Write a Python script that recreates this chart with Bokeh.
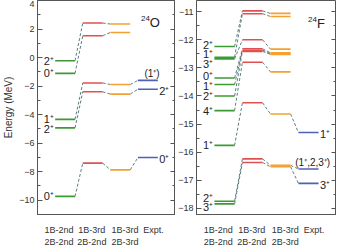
from bokeh.plotting import figure
from bokeh.layouts import row
from bokeh.models import ColumnDataSource, FixedTicker, LinearAxis, Range1d
from bokeh.embed import file_html
from bokeh.resources import INLINE
from bokeh.core.properties import value

# ---------------- data ----------------
column_labels = ["1B-2nd\n2B-2nd", "1B-3rd\n2B-2nd", "1B-3rd\n2B-3rd", "Expt."]

o24_spins = ["2⁺", "0⁺", "1⁺", "2⁺", "0⁺"]
o24_2b2 = [-0.22, -1.11, -4.33, -4.93, -9.73]
o24_3b2 = [2.42, 1.53, -1.78, -2.40, -7.40]
o24_3b3 = [2.35, 1.76, -1.89, -2.56, -7.87]
o24_expt = [-1.60, -2.22, -7.00]
o24_expt_spins = ["(1⁺)", "2⁺", "0⁺"]
o24_expt_from = [2, 3, 4]

f24_spins = ["2⁺", "1⁺", "3⁺", "0⁺", "1⁺", "2⁺", "4⁺", "1⁺", "2⁺", "3⁺"]
f24_2b2 = [-12.24, -12.62, -12.68, -13.36, -13.59, -14.00, -14.52, -15.76, -17.75, -17.84]
f24_3b2 = [-10.97, -11.07, -12.00, -12.32, -12.37, -12.41, -12.80, -14.24, -16.24, -16.37]
f24_3b3 = [-11.06, -11.17, -12.33, -12.46, -12.49, -12.52, -13.14, -14.64, -16.47, -16.52]
f24_expt = [-15.30, -16.60, -17.11]
f24_expt_spins = ["1⁺", "(1⁺,2,3⁺)", "3⁺"]
f24_expt_from = [7, 8, 9]

# ---------------- style ----------------
COLORS = ["#3c9a34", "#e05050", "#f5a030", "#5060b8"]
DASH_COLOR = "#4a7070"
FONT = "Liberation Sans"
HW = 0.36
COLS = [1, 2, 3, 4]
LABEL_X = [0.78, 1.97, 3.17, 4.2]
BORDER = "#555555"


def spread(vals, gap):
    order = sorted(range(len(vals)), key=lambda i: -vals[i])
    pos = [vals[i] for i in order]
    for _ in range(200):
        for k in range(len(pos) - 1):
            d = pos[k] - pos[k + 1]
            if d < gap:
                s = (gap - d) / 2
                pos[k] += s
                pos[k + 1] -= s
    out = [0] * len(vals)
    for k, i in enumerate(order):
        out[i] = pos[k]
    return out


def make_panel(fw, yr, major, minor, calc, expt, expt_from, spins, expt_spins,
               nucl_mass, nucl_sym, nucl_xy, gap, expt_label_above, left_border, ylabel):
    p = figure(frame_width=fw, frame_height=214, output_backend="svg",
               toolbar_location=None, x_range=Range1d(0, 5), y_range=Range1d(*yr),
               min_border_left=left_border, min_border_right=0, min_border_top=0,
               min_border_bottom=0)
    p.grid.visible = False
    p.outline_line_color = BORDER
    p.background_fill_color = "white"
    p.border_fill_color = "white"

    ya = p.yaxis[0]
    ya.ticker = FixedTicker(ticks=major, minor_ticks=minor)
    ya.major_tick_in = 5
    ya.major_tick_out = 0
    ya.minor_tick_in = 3
    ya.minor_tick_out = 0
    ya.axis_line_color = BORDER
    ya.major_tick_line_color = BORDER
    ya.minor_tick_line_color = BORDER
    ya.major_label_text_font = FONT
    ya.major_label_text_font_size = "9px"
    ya.major_label_text_color = "#333333"
    ya.major_label_standoff = 3
    if ylabel:
        ya.axis_label = ylabel
        ya.axis_label_text_font = FONT
        ya.axis_label_text_font_size = "10px"
        ya.axis_label_text_font_style = "normal"
        ya.axis_label_text_color = "#333333"
        ya.axis_label_standoff = 2
    ra = LinearAxis(ticker=FixedTicker(ticks=major, minor_ticks=minor),
                    major_tick_in=5, major_tick_out=0, minor_tick_in=3, minor_tick_out=0,
                    major_label_overrides={t: "" for t in major},
                    major_label_text_font_size="1px", major_label_standoff=0,
                    axis_line_color=BORDER, major_tick_line_color=BORDER,
                    minor_tick_line_color=BORDER)
    p.add_layout(ra, "right")

    xa = p.xaxis[0]
    xa.ticker = FixedTicker(ticks=LABEL_X)
    xa.major_label_overrides = {LABEL_X[i]: column_labels[i] for i in range(4)}
    xa.major_tick_line_color = None
    xa.minor_tick_line_color = None
    xa.axis_line_color = BORDER
    xa.major_label_text_font = FONT
    xa.major_label_text_font_size = "9px"
    xa.major_label_text_color = "#333333"
    xa.major_label_standoff = 4

    # connectors
    for c in range(2):
        a, b = calc[c], calc[c + 1]
        src = ColumnDataSource(dict(x0=[COLS[c] + HW] * len(a), y0=a,
                                    x1=[COLS[c + 1] - HW] * len(b), y1=b))
        p.segment("x0", "y0", "x1", "y1", source=src, line_color=DASH_COLOR,
                  line_width=0.9, line_dash="3 2")
    a = [calc[2][i] for i in expt_from]
    src = ColumnDataSource(dict(x0=[COLS[2] + HW] * len(a), y0=a,
                                x1=[COLS[3] - HW] * len(expt), y1=expt))
    p.segment("x0", "y0", "x1", "y1", source=src, line_color=DASH_COLOR,
              line_width=0.9, line_dash="3 2")

    # levels
    allcols = calc + [expt]
    for c, lv in enumerate(allcols):
        src = ColumnDataSource(dict(x0=[COLS[c] - HW] * len(lv), x1=[COLS[c] + HW] * len(lv), y=lv))
        p.segment("x0", "y", "x1", "y", source=src, line_color=COLORS[c], line_width=1.6)

    # spin labels left of first column
    ly = spread(calc[0], gap)
    src = ColumnDataSource(dict(x=[COLS[0] - HW - 0.05] * len(ly), y=ly, t=spins))
    p.text("x", "y", text="t", source=src, text_align="right", text_baseline="middle",
           text_font=value(FONT), text_font_size="11px", text_color="#222222")

    # expt labels
    for i, (yv, t) in enumerate(zip(expt, expt_spins)):
        if expt_label_above[i]:
            p.text(x=[COLS[3] + 0.15], y=[yv], text=[t], text_align="center",
                   text_baseline="bottom", y_offset=-1, text_font=value(FONT),
                   text_font_size="10px", text_color="#222222")
        else:
            p.text(x=[COLS[3] + HW + 0.05], y=[yv], text=[t], text_align="left",
                   text_baseline="middle", y_offset=2, text_font=value(FONT),
                   text_font_size="11px", text_color="#222222")

    # nucleus label
    p.text(x=[nucl_xy[0]], y=[nucl_xy[1]], text=[nucl_mass], text_align="right",
           text_baseline="bottom", y_offset=-1, text_font=value(FONT),
           text_font_size="8px", text_color="#222222")
    p.text(x=[nucl_xy[0]], y=[nucl_xy[1]], text=[nucl_sym], text_align="left",
           text_baseline="middle", y_offset=1, text_font=value(FONT),
           text_font_size="13px", text_color="#222222")
    return p


p1 = make_panel(138, (-11, 4), list(range(-10, 5, 2)), list(range(-11, 5, 2)),
                [o24_2b2, o24_3b2, o24_3b3], o24_expt, o24_expt_from,
                o24_spins, o24_expt_spins, "24", "O", (4.07, 2.5), 0.7,
                [True, False, False], 20, "Energy (MeV)")
p2 = make_panel(140, (-18.22, -10.6), list(range(-18, -10)),
                [v + 0.5 for v in range(-19, -10)],
                [f24_2b2, f24_3b2, f24_3b3], f24_expt, f24_expt_from,
                f24_spins, f24_expt_spins, "24", "F", (4.3, -11.4), 0.34,
                [False, True, False], 20, None)

layout = row(p1, p2, spacing=0)
open("out.html", "w").write(file_html(layout, INLINE))
